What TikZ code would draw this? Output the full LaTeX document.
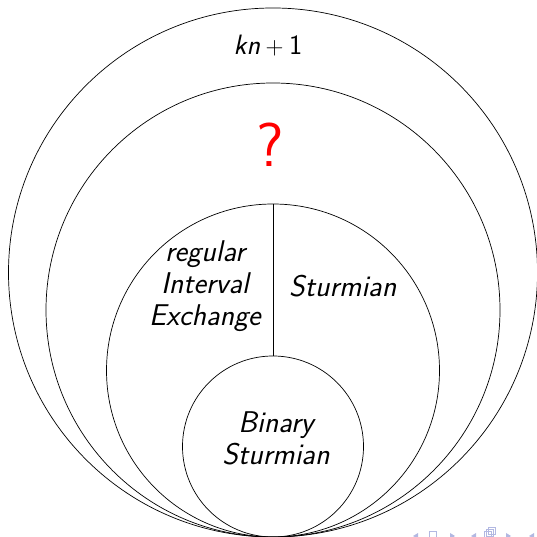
\documentclass[tikz,border=0pt]{standalone}
\usepackage{xcolor}
\renewcommand{\familydefault}{\sfdefault}
\definecolor{NAVgray}{RGB}{178,184,226}
\usetikzlibrary{positioning}

\begin{document}
\begin{tikzpicture}[x=1pt, y=1pt,
   ring/.style={draw, line width=0.7pt},
   lbl/.style={font=\fontsize{30}{32}\selectfont\itshape, align=center, inner sep=0pt},
   navsym/.style={fill=NAVgray, draw=none}]
      \useasboundingbox (0,0) rectangle (537,537);
      \clip (0,0) rectangle (537,537);
      % Circles, all touching at the bottom
      \draw[ring] (273,264.5) circle (264.5);
      \draw[ring] (273,227) circle (227);
      \draw[ring] (273,166.5) circle (166.5);
      \draw[ring] (273,90.5) circle (90.5);
      % Split of the middle disc
      \coordinate (midtop) at (273,333);
      \coordinate (bintop) at (273,181);
      \draw[line width=1pt] (midtop) -- (bintop);
      % Labels
      \node[inner sep=0pt, font=\fontsize{28}{30}\selectfont] (kn) at (268,491) {\textit{kn}${}+{}$1};
      \node[inner sep=0pt, text=red, font=\fontsize{62}{70}\selectfont] (open) at (270,392) {?};
      \node[lbl] (rie) at (205,251) {regular\\Interval\\Exchange};
      \node[lbl, anchor=west] (sturm) at (289,251) {Sturmian};
      \node[lbl] (binary) at (276,99) {Binary\\Sturmian};
      % Navigation symbols
      \fill[navsym] (418,4) -- (413,1) -- (418,-2) -- cycle;
      \draw[NAVgray, line width=1pt] (429,-2) rectangle (436,5);
      \fill[navsym] (450,4) -- (455,1) -- (450,-2) -- cycle;
      \fill[navsym] (476,4) -- (471,1) -- (476,-2) -- cycle;
      \draw[NAVgray, line width=1pt] (484,-2) rectangle (491,5) (486,0) rectangle (493,7) (488,2) rectangle (495,9);
      \fill[navsym] (506,4) -- (511,1) -- (506,-2) -- cycle;
      \fill[navsym] (534,4) -- (529,1) -- (534,-2) -- cycle;
   \end{tikzpicture}
\end{document}
